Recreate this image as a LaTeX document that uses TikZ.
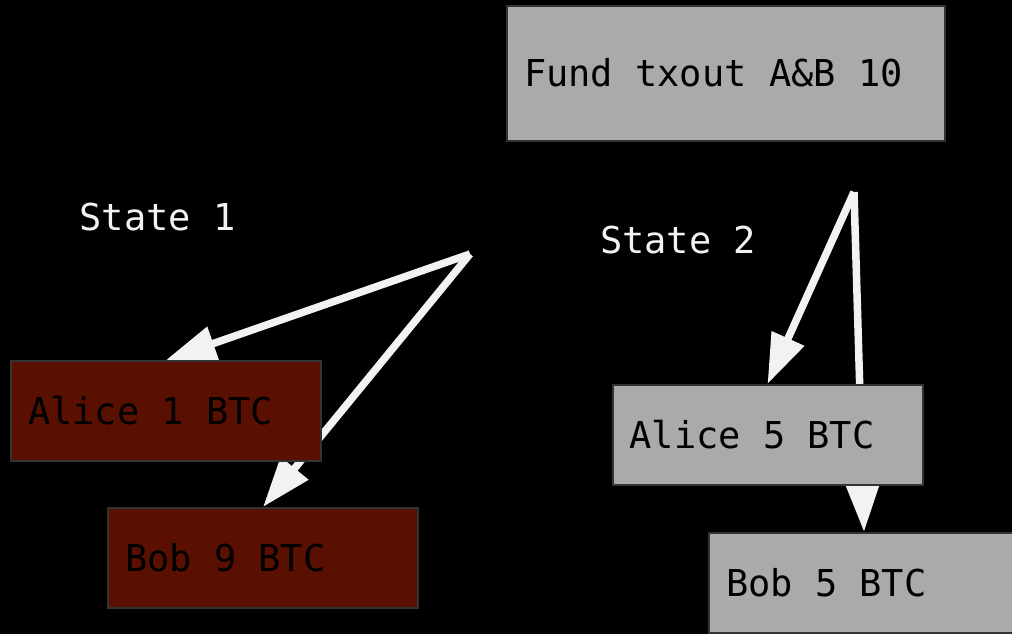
\documentclass[tikz,border=0pt]{standalone}
\usepackage{fontspec}
\setmainfont{DejaVu Sans Mono}
\setmonofont{DejaVu Sans Mono}
\usetikzlibrary{arrows.meta}
\definecolor{boxgray}{HTML}{AAAAAA}
\definecolor{boxred}{HTML}{5A1000}
\definecolor{boxline}{HTML}{333333}
\definecolor{fg}{HTML}{F2F2F2}
\pgfdeclarelayer{bg}
\pgfdeclarelayer{edges}
\pgfsetlayers{bg,edges,main}
\newcommand{\diafont}{\ttfamily\fontsize{37}{44}\selectfont}
\newcommand{\boxtext}[2]{\makebox[#1][l]{#2}}
\begin{document}
\begin{tikzpicture}[x=1pt,y=-1pt,
  font=\diafont,
  box/.style={draw=boxline, line width=2pt, inner xsep=17pt, inner ysep=0pt,
    minimum height=100pt, text height=27pt, text depth=0pt, text=black},
  graybox/.style={box, fill=boxgray},
  redbox/.style={box, fill=boxred},
  statelabel/.style={text=fg, inner sep=0pt, text height=27pt, text depth=0pt},
  conn/.style={draw=fg, line width=7.5pt,
    -{Triangle[length=50pt,width=34pt]}, fill=fg}
]
\useasboundingbox (0,0) rectangle (1012,634);
\begin{pgfonlayer}{bg}
  \fill[black] (0,0) rectangle (1012,634);
\end{pgfonlayer}

\node[graybox, minimum height=135pt] (fund) at (726,73.5) {\boxtext{404pt}{Fund txout A\&B 10}};
\node[redbox] (a1) at (166,411) {\boxtext{276pt}{Alice 1 BTC}};
\node[redbox] (b9) at (263,558) {\boxtext{276pt}{Bob 9 BTC}};
\node[graybox] (a5) at (767.5,435) {\boxtext{276pt}{Alice 5 BTC}};
\node[graybox] (b5) at (864,583) {\boxtext{276pt}{Bob 5 BTC}};

\node[statelabel] (st1) at (157.5,216.5) {State 1};
\node[statelabel] (st2) at (678,240) {State 2};

\coordinate (s1) at (470,254);
\coordinate (s2) at (854,192);

\begin{pgfonlayer}{edges}
  \draw[conn] (s1) -- (a1.north);
  \draw[conn] (s1) -- (b9.north);
  \draw[conn] (s2) -- (a5.north);
  \draw[conn] (s2) -- (b5.north);
\end{pgfonlayer}
\end{tikzpicture}
\end{document}
